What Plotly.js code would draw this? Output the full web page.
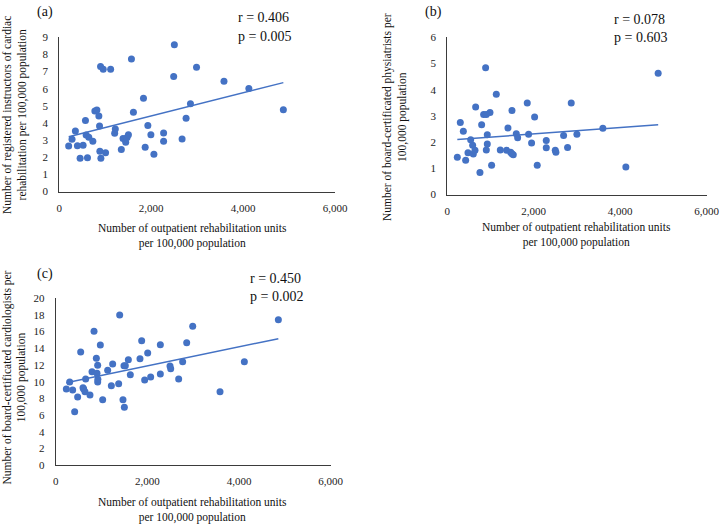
<!DOCTYPE html>
<html>
<head>
<meta charset="utf-8">
<script src="https://cdn.plot.ly/plotly-3.0.1.min.js"></script>
<style>html,body{margin:0;padding:0;background:#fff;}#chart{width:720px;height:525px;}</style>
</head>
<body>
<div id="chart"></div>
<script>
// Panel (a): registered instructors of cardiac rehabilitation
const xA = [204,277,350,394,453,518,569,584,613,642,730,774,818,861,876,883,898,905,956,1007,1117,1205,1219,1350,1387,1445,1475,1504,1570,1613,1832,1869,1927,1993,2059,2270,2270,2489,2504,2672,2759,2854,2986,3584,4125,4876];
const yA = [2.66,3.05,3.54,2.68,1.94,2.70,4.14,3.30,1.98,3.17,2.94,4.70,4.76,4.41,3.83,2.35,7.29,1.94,7.13,2.27,7.13,3.40,3.65,2.45,3.09,2.88,3.15,3.32,7.74,4.63,5.44,2.59,3.85,3.32,2.18,3.42,2.94,6.71,8.57,3.07,4.28,5.13,7.25,6.43,6.01,4.78];
// Panel (b): board-certificated physiatrists
const xB = [232,301,371,425,479,541,587,602,641,656,756,795,841,887,903,903,926,926,988,1026,1134,1227,1373,1404,1466,1497,1497,1527,1597,1628,1851,1882,1951,2021,2082,2291,2291,2499,2514,2692,2784,2869,3000,3601,4133,4881];
const yB = [1.42,2.75,2.41,1.31,1.59,2.09,1.88,1.55,1.69,3.34,0.84,2.66,3.05,4.84,1.70,3.05,1.93,2.28,3.13,1.12,3.83,1.70,1.69,2.54,1.61,3.21,1.56,1.52,2.32,2.17,3.49,2.30,1.97,2.96,1.12,2.06,1.78,1.69,1.61,2.25,1.79,3.49,2.30,2.53,1.05,4.63];
// Panel (c): board-certificated cardiologists
const xC = [232,305,370,414,479,545,596,610,639,654,748,792,836,887,901,916,916,920,974,1025,1134,1214,1243,1374,1396,1468,1490,1498,1519,1585,1628,1839,1876,1941,2007,2072,2283,2283,2494,2509,2683,2770,2858,2989,3585,4116,4858];
const yC = [9.12,9.96,9.0,6.4,8.16,13.56,9.28,9.12,8.8,10.32,8.4,11.2,16.04,12.8,11.0,11.96,9.96,10.28,14.4,7.84,11.36,9.52,12.12,9.76,18.0,7.84,11.92,6.92,11.92,12.64,10.84,12.76,14.92,10.2,13.44,10.56,14.44,10.92,11.88,11.56,10.32,12.4,14.68,16.64,8.8,12.4,17.44];

const xTitle = 'Number of outpatient rehabilitation units<br>per 100,000 population';
const yTitleA = 'Number of registered instructors of cardiac<br>rehabilitation per 100,000 population';
const yTitleB = 'Number of board-certificated physiatrists per<br>100,000 population';
const yTitleC = 'Number of board-certificated cardiologists per<br>100,000 population';
const statsA = ['r = 0.406', 'p = 0.005'];
const statsB = ['r = 0.078', 'p = 0.603'];
const statsC = ['r = 0.450', 'p = 0.002'];

const W = 720, H = 525;
const FONT = 'Liberation Serif, Times New Roman, serif';
const BLUE = '#4472C4';
const px = v => v / W;
const py = v => 1 - v / H;

function fit(xs, ys) {
  const n = xs.length;
  let sx = 0, sy = 0, sxx = 0, sxy = 0;
  for (let i = 0; i < n; i++) { sx += xs[i]; sy += ys[i]; sxx += xs[i]*xs[i]; sxy += xs[i]*ys[i]; }
  const b = (n*sxy - sx*sy) / (n*sxx - sx*sx);
  const a = (sy - b*sx) / n;
  const x0 = Math.min(...xs), x1 = Math.max(...xs);
  return {x: [x0, x1], y: [a + b*x0, a + b*x1]};
}

function panel(xs, ys, xa, ya) {
  const f = fit(xs, ys);
  return [
    {x: xs, y: ys, xaxis: xa, yaxis: ya, type: 'scatter', mode: 'markers',
     marker: {color: BLUE, size: 7}, hoverinfo: 'x+y', cliponaxis: false},
    {x: f.x, y: f.y, xaxis: xa, yaxis: ya, type: 'scatter', mode: 'lines',
     line: {color: BLUE, width: 1.5}, hoverinfo: 'skip'}
  ];
}

const data = [].concat(panel(xA, yA, 'x', 'y'), panel(xB, yB, 'x2', 'y2'), panel(xC, yC, 'x3', 'y3'));

function xax(d0, d1, anchor) {
  return {domain: [px(d0), px(d1)], range: [0, 6000], anchor: anchor, tickvals: [0, 2000, 4000, 6000],
    tickformat: ',d', showgrid: false, zeroline: false, showline: true, linecolor: '#3b3b3b', linewidth: 1,
    ticks: '', ticklabelstandoff: 6, tickfont: {family: FONT, size: 11, color: '#222'}, fixedrange: true};
}
function yax(top, bottom, max, dt, anchor) {
  return {domain: [py(bottom), py(top)], range: [0, max], dtick: dt, tick0: 0, anchor: anchor,
    showgrid: false, zeroline: false, showline: true, linecolor: '#3b3b3b', linewidth: 1,
    ticks: '', ticklabelstandoff: 8, tickfont: {family: FONT, size: 11, color: '#222'}, fixedrange: true};
}

function ann(text, x, y, opts) {
  return Object.assign({text: text, xref: 'paper', yref: 'paper', x: px(x), y: py(y), showarrow: false,
    xanchor: 'center', yanchor: 'middle', font: {family: FONT, size: 11.5, color: '#111'}}, opts || {});
}

const annotations = [
  ann('(a)', 45, 12, {font: {family: FONT, size: 14, color: '#111'}}),
  ann('(b)', 433, 12, {font: {family: FONT, size: 14, color: '#111'}}),
  ann('(c)', 45, 274, {font: {family: FONT, size: 14, color: '#111'}}),
  ann(statsA[0], 236, 18, {xanchor: 'left', font: {family: FONT, size: 14, color: '#111'}}),
  ann(statsA[1], 236, 36, {xanchor: 'left', font: {family: FONT, size: 14, color: '#111'}}),
  ann(statsB[0], 612, 19, {xanchor: 'left', font: {family: FONT, size: 14, color: '#111'}}),
  ann(statsB[1], 612, 37, {xanchor: 'left', font: {family: FONT, size: 14, color: '#111'}}),
  ann(statsC[0], 248, 278, {xanchor: 'left', font: {family: FONT, size: 14, color: '#111'}}),
  ann(statsC[1], 248, 296, {xanchor: 'left', font: {family: FONT, size: 14, color: '#111'}}),
  ann(xTitle, 192, 236),
  ann(xTitle, 576, 235),
  ann(xTitle, 192, 510),
  ann(yTitleA, 15, 115, {textangle: -90}),
  ann(yTitleB, 395, 117, {textangle: -90}),
  ann(yTitleC, 14.5, 378, {textangle: -90})
];

const layout = {
  width: W, height: H, margin: {l: 0, r: 0, t: 0, b: 0},
  paper_bgcolor: '#fff', plot_bgcolor: '#fff', showlegend: false,
  font: {family: FONT, size: 11, color: '#222'},
  xaxis: xax(59.3, 335, 'y'),
  yaxis: yax(37.3, 191.6, 9, 1, 'x'),
  xaxis2: xax(447.3, 706.5, 'y2'),
  yaxis2: yax(37.3, 194.5, 6, 1, 'x2'),
  xaxis3: xax(55.7, 330.7, 'y3'),
  yaxis3: yax(298.3, 465, 20, 2, 'x3'),
  annotations: annotations
};

Plotly.newPlot('chart', data, layout, {displayModeBar: false, staticPlot: true});
</script>
</body>
</html>
